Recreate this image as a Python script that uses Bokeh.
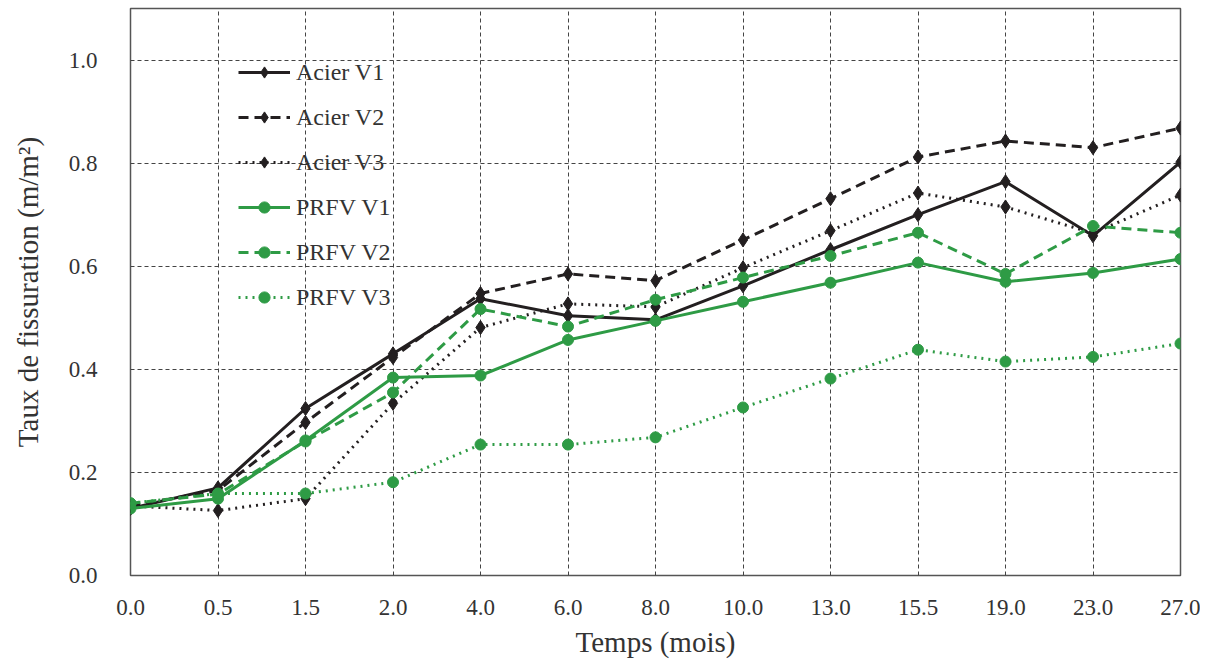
from bokeh.plotting import figure
from bokeh.models import FixedTicker, Legend, LegendItem, Range1d
from bokeh.embed import file_html
from bokeh.resources import INLINE

months = ["0.0", "0.5", "1.5", "2.0", "4.0", "6.0", "8.0", "10.0", "13.0", "15.5", "19.0", "23.0", "27.0"]
acier_v1 = [0.130, 0.170, 0.324, 0.430, 0.537, 0.504, 0.496, 0.562, 0.632, 0.700, 0.764, 0.659, 0.802]
acier_v2 = [0.135, 0.165, 0.297, 0.423, 0.547, 0.585, 0.572, 0.651, 0.731, 0.812, 0.843, 0.830, 0.868]
acier_v3 = [0.135, 0.126, 0.149, 0.334, 0.481, 0.527, 0.521, 0.597, 0.669, 0.742, 0.715, 0.664, 0.738]
prfv_v1 = [0.130, 0.149, 0.262, 0.384, 0.388, 0.457, 0.494, 0.531, 0.568, 0.607, 0.570, 0.587, 0.614]
prfv_v2 = [0.140, 0.158, 0.260, 0.355, 0.517, 0.483, 0.535, 0.578, 0.620, 0.665, 0.585, 0.678, 0.665]
prfv_v3 = [0.140, 0.159, 0.159, 0.181, 0.254, 0.254, 0.268, 0.326, 0.382, 0.438, 0.415, 0.424, 0.450]
y_ticks = [0.0, 0.2, 0.4, 0.6, 0.8, 1.0]

FONT = "Liberation Serif"
BLACK = "#231f20"
GREEN = "#2e9b45"
TEXT = "#333333"

xs = list(range(len(months)))

p = figure(width=1200, height=660, output_backend="svg", toolbar_location=None,
           x_range=Range1d(0, len(months) - 1), y_range=Range1d(0, 1.1),
           min_border_left=130, min_border_right=20, min_border_top=8, min_border_bottom=85)

p.outline_line_color = "#555555"
p.outline_line_width = 1.5

for ax in (p.xaxis[0], p.yaxis[0]):
    ax.axis_line_color = None
    ax.major_tick_line_color = None
    ax.minor_tick_line_color = None
    ax.major_label_text_font = FONT
    ax.major_label_text_font_size = "23px"
    ax.major_label_text_color = TEXT
    ax.axis_label_text_font = FONT
    ax.axis_label_text_font_size = "29px"
    ax.axis_label_text_font_style = "normal"
    ax.axis_label_text_color = TEXT

p.xaxis.ticker = FixedTicker(ticks=xs)
p.xaxis.major_label_overrides = {i: m for i, m in enumerate(months)}
p.xaxis.major_label_standoff = 18
p.xaxis.axis_label = "Temps (mois)"
p.xaxis.axis_label_standoff = 8

p.yaxis.ticker = FixedTicker(ticks=y_ticks)
p.yaxis.major_label_overrides = {t: f"{t:.1f}" for t in y_ticks}
p.yaxis.major_label_standoff = 27
p.yaxis.axis_label = "Taux de fissuration (m/m²)"
p.yaxis.axis_label_standoff = 22

for g in (p.xgrid[0], p.ygrid[0]):
    g.grid_line_color = "#444444"
    g.grid_line_dash = "4 3"
    g.grid_line_width = 1

series = [
    ("Acier V1", acier_v1, BLACK, "solid", "diamond"),
    ("Acier V2", acier_v2, BLACK, "10 6", "diamond"),
    ("Acier V3", acier_v3, BLACK, "2 5", "diamond"),
    ("PRFV V1", prfv_v1, GREEN, "solid", "circle"),
    ("PRFV V2", prfv_v2, GREEN, "10 6", "circle"),
    ("PRFV V3", prfv_v3, GREEN, "2 5", "circle"),
]

items = []
for name, ys, col, dash, mk in series:
    r1 = p.line(xs, ys, line_color=col, line_width=3, line_dash=dash)
    if mk == "diamond":
        r2 = p.scatter(xs, ys, marker="diamond", size=14, fill_color=col, line_color=col)
    else:
        r2 = p.scatter(xs, ys, marker="circle", size=11, fill_color=col, line_color=col)
    items.append(LegendItem(label=name, renderers=[r1, r2]))

legend = Legend(items=items, location=(108, 264), glyph_width=52, glyph_height=28,
                label_height=28, spacing=17, padding=0, margin=0,
                label_text_font=FONT, label_text_font_size="24px", label_text_color=TEXT,
                label_standoff=6, border_line_color=None, background_fill_alpha=0)
p.add_layout(legend, "center")

open("out.html", "w").write(file_html(p, INLINE))
